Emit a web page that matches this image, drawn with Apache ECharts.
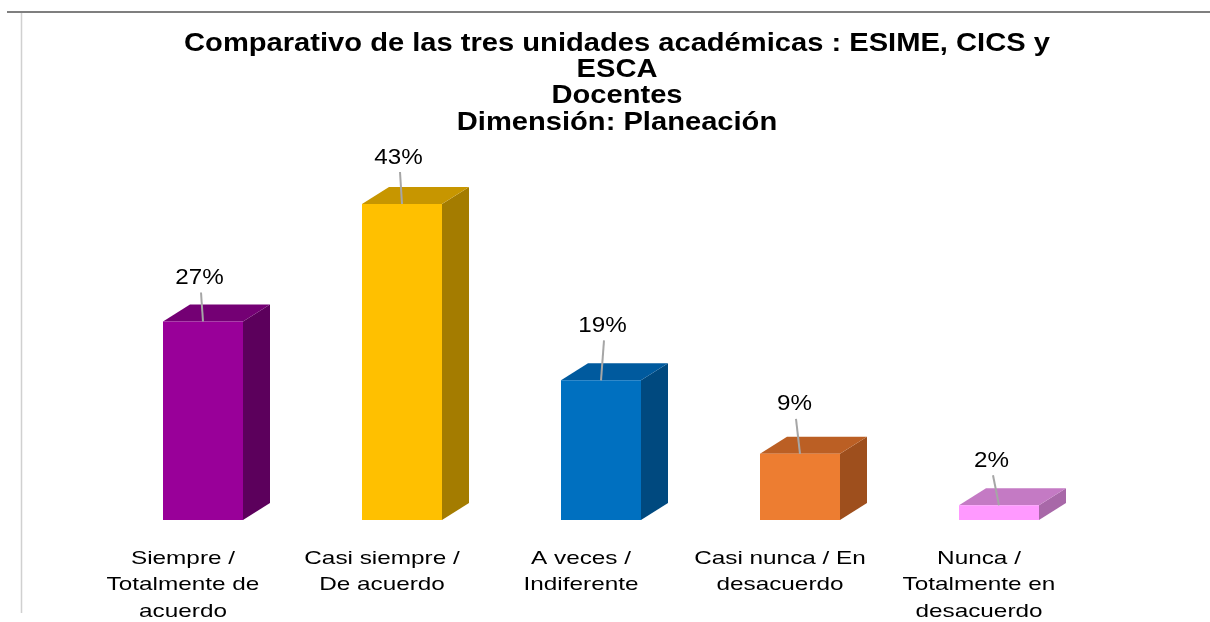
<!DOCTYPE html>
<html lang="es">
<head>
  <meta charset="UTF-8">
  <title>Dimensión: Planeación</title>
  <script src="https://cdn.jsdelivr.net/npm/echarts@6/dist/echarts.min.js"></script>
  <style>
    * { padding: 0; margin: 0; }
    #box { width: 1210px; height: 622px; background: #fff; }
  </style>
</head>
<body>
  <div id="box"></div>
  <script>
    var titulo = 'Comparativo de las tres unidades académicas : ESIME, CICS y\nESCA\nDocentes\nDimensión: Planeación'
    var categorias = [
      'Siempre /\nTotalmente de\nacuerdo',
      'Casi siempre /\nDe acuerdo',
      'A veces /\nIndiferente',
      'Casi nunca / En\ndesacuerdo',
      'Nunca /\nTotalmente en\ndesacuerdo'
    ]
    var valores = [27, 43, 19, 9, 2]
    // colores: frente, tapa, costado
    var frente = ['#990099', '#FFC000', '#0070C0', '#ED7D31', '#FF99FF']
    var tapa = ['#740074', '#C79600', '#005A9E', '#BB5F24', '#C47AC4']
    var costado = ['#5C005C', '#A47C00', '#00497F', '#9E4F1D', '#A868A8']
    // línea guía de cada etiqueta: [desvío x, largo]
    var guia = [[-2, 29], [-2, 32], [3, 40], [-4, 35], [-6, 30]]

    var fuente = '"Liberation Sans", Arial, sans-serif'
    var mCharts = echarts.init(document.getElementById('box'))

    function renderItem(params, api) {
      var i = api.value(0)
      var top = api.coord([i, api.value(1)])
      var base = api.coord([i, 0])
      var w = 80, dx = 27, dy = 17
      var x0 = top[0] - w / 2, x1 = top[0] + w / 2
      var yt = top[1], yb = base[1]
      var gx = top[0] + guia[i][0], gy = yt - guia[i][1]
      return {
        type: 'group',
        children: [
          { type: 'polygon', shape: { points: [[x1, yt], [x1 + dx, yt - dy], [x1 + dx, yb - dy], [x1, yb]] }, style: { fill: costado[i] } },
          { type: 'polygon', shape: { points: [[x0, yt], [x0 + dx, yt - dy], [x1 + dx, yt - dy], [x1, yt]] }, style: { fill: tapa[i] } },
          { type: 'rect', shape: { x: x0, y: yt, width: w, height: yb - yt }, style: { fill: frente[i] } },
          { type: 'line', shape: { x1: top[0], y1: yt, x2: gx, y2: gy }, style: { stroke: '#A6A6A6', lineWidth: 2 } },
          {
            type: 'text', x: gx - 1.5, y: gy - 14.5, scaleX: 1.1,
            style: { text: api.value(1) + '%', fill: '#000', font: '22px ' + fuente, align: 'center', verticalAlign: 'middle' }
          },
          {
            type: 'text', x: top[0] - 20, y: yb + 25.5, scaleX: 1.28,
            style: { text: categorias[i], fill: '#000', font: '19px ' + fuente, lineHeight: 26.5, align: 'center', verticalAlign: 'top' }
          }
        ]
      }
    }

    var option = {
      animation: false,
      graphic: [
        { type: 'line', shape: { x1: 7, y1: 12, x2: 1210, y2: 12 }, style: { stroke: '#7F7F7F', lineWidth: 2 } },
        { type: 'line', shape: { x1: 21.5, y1: 13, x2: 21.5, y2: 613 }, style: { stroke: '#D0D0D0', lineWidth: 1.5 } },
        {
          type: 'text', x: 617, y: 30.5, scaleX: 1.12,
          style: { text: titulo, fill: '#000', font: 'bold 26px ' + fuente, lineHeight: 26.3, align: 'center', verticalAlign: 'top' }
        }
      ],
      grid: { left: 103.5, right: 111.5, top: 152.5, bottom: 102 },
      xAxis: {
        type: 'category',
        data: categorias,
        axisLine: { show: false },
        axisTick: { show: false },
        axisLabel: { show: false }
      },
      yAxis: {
        type: 'value',
        min: 0,
        max: 50,
        show: false,
        splitLine: { show: false }
      },
      series: [{
        type: 'custom',
        renderItem: renderItem,
        data: valores.map(function (v, i) { return [i, v] })
      }]
    }
    mCharts.setOption(option)
  </script>
</body>
</html>
